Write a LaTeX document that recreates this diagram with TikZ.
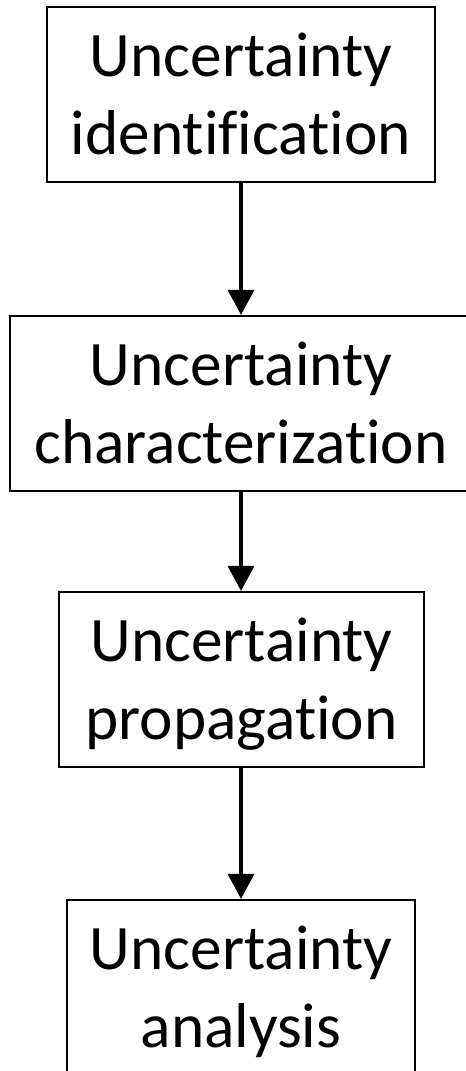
\documentclass[tikz,border=0pt]{standalone}
\usepackage{fontspec}
\setmainfont{Carlito}[Ligatures={NoCommon}]
\usetikzlibrary{arrows.meta}
\newcommand{\mystrut}{\rule[-10.5pt]{0pt}{51.75pt}}
\tikzset{
  stagebox/.style={draw=black, line width=1.1pt, fill=white, inner sep=0pt,
    minimum height=131.25pt, align=center,
    font=\fontsize{47.5}{58.5}\selectfont},
  flowarrow/.style={line width=2.6pt, -{Triangle[length=18.75pt,width=19.5pt]}, shorten >=0.3pt}
}
\begin{document}
\begin{tikzpicture}[x=0.75pt,y=-0.75pt]
\useasboundingbox (0,0) rectangle (466,1071);
\node[stagebox, minimum width=291pt] (ident) at (241,94.5) {\mystrut Uncertainty\\\mystrut identification};
\node[stagebox, minimum width=346.5pt] (charac) at (241,403.5) {\mystrut Uncertainty\\\mystrut characterization};
\node[stagebox, minimum width=273.75pt] (prop) at (241.5,679.5) {\mystrut Uncertainty\\\mystrut propagation};
\node[stagebox, minimum width=261pt] (anal) at (241,987.5) {\mystrut Uncertainty\\\mystrut analysis};
\draw[flowarrow] (ident.south) -- (charac.north);
\draw[flowarrow] (charac.south) -- (charac.south |- prop.north);
\draw[flowarrow] (prop.south -| ident.south) -- (ident.south |- anal.north);
\end{tikzpicture}
\end{document}
